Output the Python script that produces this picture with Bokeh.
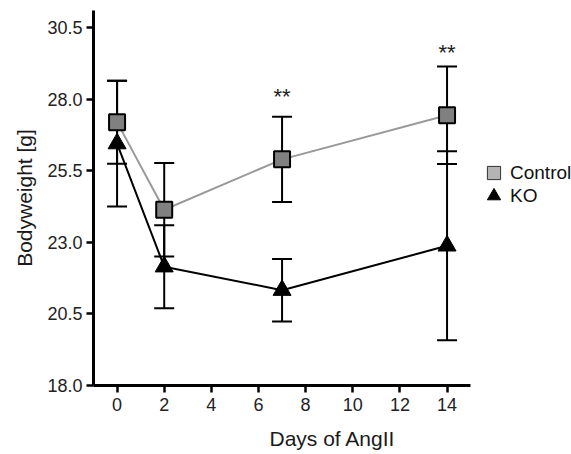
from bokeh.plotting import figure
from bokeh.models import (ColumnDataSource, Whisker, TeeHead, Range1d, FixedTicker,
                          NumeralTickFormatter, Legend, LegendItem)
from bokeh.core.properties import value
from bokeh.embed import file_html
from bokeh.resources import INLINE

days = [0, 2, 7, 14]
control_mean = [27.2, 24.14, 25.9, 27.44]
control_err = [1.45, 1.63, 1.49, 1.7]
ko_mean = [26.45, 22.15, 21.33, 22.88]
ko_err = [2.2, 1.45, 1.09, 3.3]
sig_days = [7, 14]
sig_y = [28.08, 29.65]
sig_labels = ["**", "**"]
x_ticks = [0, 2, 4, 6, 8, 10, 12, 14]
y_ticks = [18.0, 20.5, 23.0, 25.5, 28.0, 30.5]

FONT = "Liberation Sans"

p = figure(width=571, height=452, output_backend="svg", toolbar_location=None,
           x_range=Range1d(-1, 19.28), y_range=Range1d(18, 31.1),
           min_border_left=93, min_border_right=0, min_border_top=10,
           min_border_bottom=65)
p.outline_line_color = None
p.xgrid.visible = False
p.ygrid.visible = False
p.background_fill_color = "white"

ctrl = ColumnDataSource(dict(x=days, y=control_mean,
                             lo=[m - e for m, e in zip(control_mean, control_err)],
                             hi=[m + e for m, e in zip(control_mean, control_err)]))
ko = ColumnDataSource(dict(x=days, y=ko_mean,
                           lo=[m - e for m, e in zip(ko_mean, ko_err)],
                           hi=[m + e for m, e in zip(ko_mean, ko_err)]))

def add_err(src):
    w = Whisker(source=src, base="x", lower="lo", upper="hi", dimension="height",
                line_color="black", line_width=2,
                lower_head=TeeHead(size=20, line_color="black", line_width=2),
                upper_head=TeeHead(size=20, line_color="black", line_width=2))
    p.add_layout(w)

# Control
add_err(ctrl)
p.line("x", "y", source=ctrl, line_color="#999999", line_width=2)
p.scatter("x", "y", source=ctrl, marker="square", size=16, fill_color="#808080",
          line_color="black", line_width=2)
# KO
add_err(ko)
p.line("x", "y", source=ko, line_color="black", line_width=2)
p.scatter("x", "y", source=ko, marker="triangle", size=18, fill_color="black",
          line_color="black", line_width=1)

# significance
p.text(x=sig_days, y=sig_y, text=sig_labels, text_font=value(FONT), text_font_size="22px",
       text_align="center", text_baseline="middle", text_color="#222222")

# legend-only renderers (hidden; the legend draws their style)
lg_c = p.scatter("x", "y", source=ctrl, marker="square", fill_color="#b4b4b4",
                 line_color="#333333", line_width=1, visible=False)
lg_k = p.scatter("x", "y", source=ko, marker="triangle", fill_color="black",
                 line_color="black", line_width=1, visible=False)

def make_legend(label, rend, loc):
    lg = Legend(items=[LegendItem(label=label, renderers=[rend])],
                location=loc, margin=0, padding=0, spacing=0,
                glyph_width=33, glyph_height=33, label_standoff=-6,
                label_text_font=FONT, label_text_font_size="19px",
                label_text_color="#111111", click_policy="none",
                border_line_color=None, background_fill_alpha=0)
    p.add_layout(lg)

make_legend("Control", lg_c, (384, 196))
make_legend("KO", lg_k, (384, 173))

for ax in (p.xaxis[0], p.yaxis[0]):
    ax.axis_line_width = 3
    ax.axis_line_color = "black"
    ax.major_tick_line_width = 2.5
    ax.major_tick_line_color = "black"
    ax.major_tick_out = 7
    ax.major_tick_in = 0
    ax.minor_tick_line_color = None
    ax.major_label_text_font = FONT
    ax.major_label_text_font_size = "18px"
    ax.major_label_text_color = "#222222"
    ax.axis_label_text_font = FONT
    ax.axis_label_text_font_size = "21px"
    ax.axis_label_text_font_style = "normal"
    ax.axis_label_text_color = "#1a1a1a"

p.xaxis[0].bounds = (-1, 15)
p.xaxis[0].ticker = FixedTicker(ticks=x_ticks)
p.yaxis[0].ticker = FixedTicker(ticks=y_ticks)
p.yaxis[0].formatter = NumeralTickFormatter(format="0.0")
p.xaxis[0].axis_label = "Days of AngII"
p.yaxis[0].axis_label = "Bodyweight [g]"
p.xaxis[0].major_label_standoff = 5
p.yaxis[0].major_label_standoff = 4
p.xaxis[0].axis_label_standoff = 13
p.yaxis[0].axis_label_standoff = 8

open("out.html", "w").write(file_html(p, INLINE))
